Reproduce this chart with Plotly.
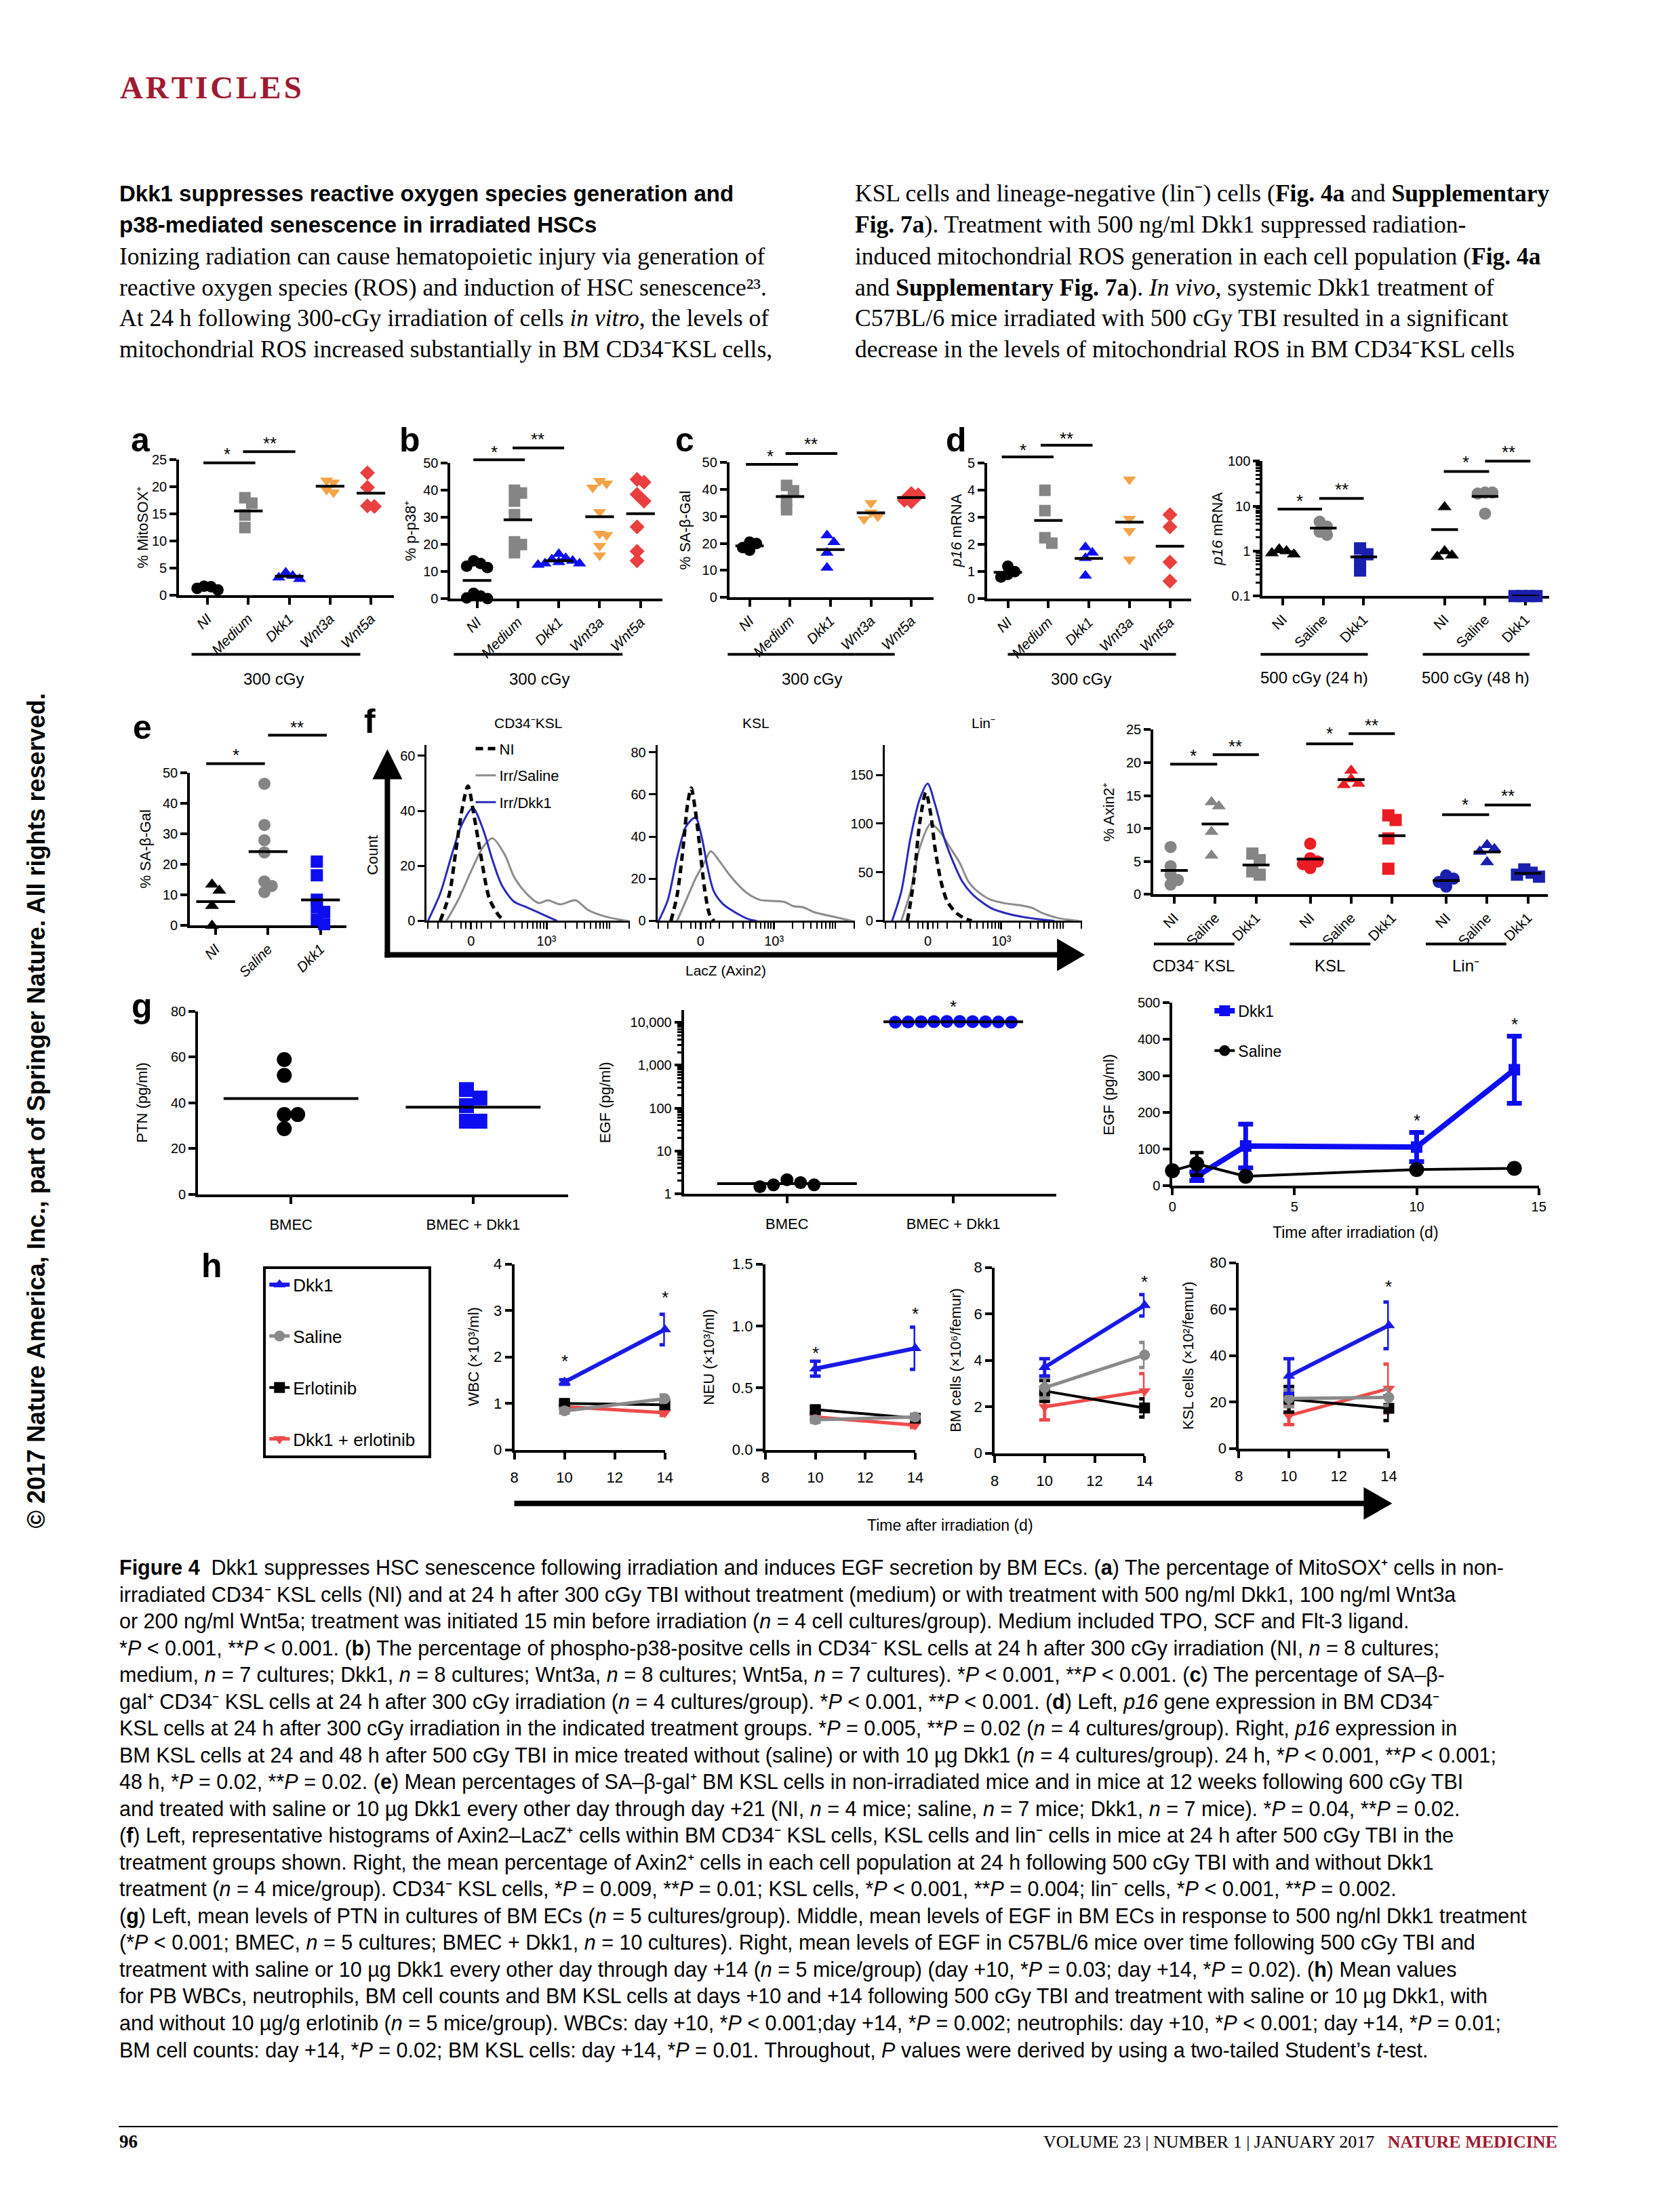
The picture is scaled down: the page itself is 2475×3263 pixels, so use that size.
import numpy as np
import plotly.graph_objects as go

W, H = 2475, 3263
SANS = "Liberation Sans"
SERIF = "Liberation Serif"
BLACK = "#000000"
GREY = "#858585"
BLUE = "#0d0df2"
NAVY = "#1a1fae"
ORANGE = "#f5a348"
RED = "#ea3f3f"
PURERED = "#ec1c24"
HBLUE = "#1a1ae6"
HRED = "#ef4a4a"
DARKRED = "#9e1b32"
TICK = 20
TITLE = 22
SUPP = "\u207a"   # superscript plus
SUPM = "\u207b"   # superscript minus

# ======================= DATA =======================
groups_300 = ["NI", "Medium", "Dkk1", "Wnt3a", "Wnt5a"]
# (a) % MitoSOX+
mitosox_NI = [1.0, 1.3, 1.6, 1.7]
mitosox_Medium = [18.0, 17.0, 14.8, 12.5]
mitosox_Dkk1 = [4.2, 3.6, 3.3, 3.0]
mitosox_Wnt3a = [21.2, 20.8, 19.5, 19.0]
mitosox_Wnt5a = [22.6, 19.9, 16.5, 16.4]
# (b) % p-p38+
pp38_NI = [14.0, 13.0, 12.0, 11.5, 2.0, 1.0, 0.3, 0.1]
pp38_Medium = [40.0, 39.0, 36.0, 31.0, 21.0, 20.0, 17.0]
pp38_Dkk1 = [16.5, 15.0, 14.5, 14.0, 13.5, 13.0, 12.5, 13.0]
pp38_Wnt3a = [43.5, 42.5, 41.0, 32.0, 24.0, 23.5, 19.5, 16.0]
pp38_Wnt5a = [44.0, 43.0, 38.5, 36.0, 26.5, 17.5, 14.0]
# (c) % SA-beta-Gal
sabgal_NI = [20.5, 20.0, 18.5, 17.5]
sabgal_Medium = [41.5, 39.5, 36.0, 32.5]
sabgal_Dkk1 = [23.0, 20.5, 16.5, 11.0]
sabgal_Wnt3a = [35.0, 31.5, 30.0, 29.0]
sabgal_Wnt5a = [38.5, 38.0, 36.0, 35.5]
# (d, left) p16 mRNA
p16_NI = [1.2, 1.0, 0.9, 0.8]
p16_Medium = [4.0, 3.25, 2.25, 2.05]
p16_Dkk1 = [1.9, 1.7, 1.5, 0.85]
p16_Wnt3a = [4.4, 2.95, 2.5, 1.45]
p16_Wnt5a = [3.1, 2.65, 1.35, 0.65]
# (d, right) p16 mRNA in vivo, 500 cGy
groups_vivo = ["NI", "Saline", "Dkk1"]
p16_24h_NI = [1.1, 1.0, 0.9, 0.85]
p16_24h_Saline = [4.5, 3.5, 2.7, 2.3]
p16_24h_Dkk1 = [1.15, 0.85, 0.6, 0.37]
p16_48h_NI = [9.5, 1.0, 0.8, 0.75]
p16_48h_Saline = [20.0, 20.0, 19.0, 6.8]
p16_48h_Dkk1 = [0.1, 0.1, 0.1, 0.1]
group_labels_d = ["500 cGy (24 h)", "500 cGy (48 h)"]
# (e) % SA-beta-Gal in vivo
e_NI = [13.5, 11.5, 6.5, 0.0]
e_Saline = [46.5, 33.0, 28.0, 24.0, 14.5, 13.0, 11.0]
e_Dkk1 = [21.0, 16.5, 8.5, 6.0, 4.5, 2.0, 0.5]
# (f, left) LacZ (Axin2) histograms: display channel (biexponential units) and counts
hist_titles = ["CD34" + SUPM + "KSL", "KSL", "Lin" + SUPM]
cd34_NI_x = [-0.487, -0.341, -0.244, -0.147, -0.050, 0.047, 0.144, 0.289, 0.435, 0.532]
cd34_NI_y = [0, 10, 25, 40, 49, 38, 25, 8, 2, 0]
cd34_Saline_x = [-0.39, -0.196, -0.002, 0.192, 0.338, 0.532, 0.677, 0.871, 1.065, 1.21, 1.404, 1.647, 1.841, 2.132, 2.471]
cd34_Saline_y = [0, 8, 18, 27, 30, 24, 16, 10, 6.5, 7.5, 6, 7.5, 4, 1.5, 0]
cd34_Dkk1_x = [-0.681, -0.487, -0.293, -0.147, 0.027, 0.192, 0.338, 0.483, 0.677, 0.871, 1.162, 1.356]
cd34_Dkk1_y = [0, 10, 25, 35, 41, 33, 22, 13, 7, 5, 2, 0]
ksl_NI_x = [-0.481, -0.382, -0.283, -0.213, -0.153, -0.084, -0.014, 0.065, 0.145, 0.214]
ksl_NI_y = [0, 12, 35, 55, 63, 52, 35, 15, 3, 0]
ksl_Saline_x = [-0.382, -0.233, -0.084, 0.065, 0.165, 0.314, 0.463, 0.612, 0.761, 0.960, 1.158, 1.357, 1.506, 1.655, 1.854, 2.152, 2.450]
ksl_Saline_y = [0, 10, 20, 28, 33, 28, 22, 17, 13, 10, 9.5, 9, 7, 6.5, 4, 2, 0]
ksl_Dkk1_x = [-0.680, -0.531, -0.382, -0.233, -0.084, 0.016, 0.115, 0.214, 0.363, 0.562, 0.761, 0.910]
ksl_Dkk1_y = [0, 10, 30, 45, 49, 40, 25, 14, 8, 4, 1, 0]
lin_NI_x = [-0.332, -0.233, -0.134, -0.034, 0.045, 0.115, 0.214, 0.314, 0.463, 0.612, 0.711]
lin_NI_y = [0, 40, 100, 132, 110, 75, 40, 20, 8, 2, 0]
lin_Saline_x = [-0.432, -0.283, -0.134, 0.045, 0.214, 0.363, 0.512, 0.661, 0.811, 1.009, 1.258, 1.506, 1.705, 1.854, 2.102, 2.450]
lin_Saline_y = [0, 30, 75, 100, 90, 75, 60, 40, 30, 22, 18, 16, 13, 8, 3, 0]
lin_Dkk1_x = [-0.581, -0.432, -0.283, -0.134, -0.004, 0.115, 0.264, 0.413, 0.562, 0.711, 0.860, 1.059, 1.258, 1.457, 1.755, 2.053]
lin_Dkk1_y = [0, 30, 85, 125, 141, 120, 85, 60, 40, 28, 20, 12, 8, 5, 2, 0]
hist_minor_values = [-300, -200, -100, -50, -25, 25, 50, 100, 200, 300, 400, 500, 600, 700, 800, 900,
                     2000, 3000, 4000, 5000, 6000, 7000, 8000, 9000, 10000, 20000]
# (f, right) % Axin2+
axin_groups = ["CD34" + SUPM + " KSL", "KSL", "Lin" + SUPM]
axin_CD34_NI = [7.2, 4.3, 3.0, 2.2, 1.5]
axin_CD34_Saline = [14.0, 13.4, 9.5, 5.9]
axin_CD34_Dkk1 = [6.2, 5.2, 3.5, 3.0]
axin_KSL_NI = [7.7, 5.5, 5.0, 4.6, 4.0]
axin_KSL_Saline = [18.8, 17.5, 16.8, 16.6]
axin_KSL_Dkk1 = [12.0, 11.3, 8.5, 3.9]
axin_Lin_NI = [2.9, 2.4, 1.9, 1.2]
axin_Lin_Saline = [7.5, 6.9, 6.5, 4.9]
axin_Lin_Dkk1 = [3.8, 3.3, 3.0, 2.7]
# (g) PTN / EGF
g_groups = ["BMEC", "BMEC + Dkk1"]
ptn_BMEC = [58.8, 51.9, 34.8, 34.8, 28.6]
ptn_BMEC_Dkk1 = [45.7, 42.0, 38.7, 31.9, 31.9]
egf_BMEC = [2.1, 1.8, 1.6, 1.45, 1.6]
egf_BMEC_Dkk1 = [10500, 10200, 10400, 10600, 10300, 10500, 10400, 10200, 10600, 10300]
egf_days_saline = [0, 1, 3, 10, 14]
egf_saline = [40, 59, 25, 43.5, 46.5]
egf_saline_err = [4, 31, 4, 4, 4]
egf_days_dkk1 = [1, 3, 10, 14]
egf_dkk1 = [25, 108, 105, 317]
egf_dkk1_err = [12, 60, 40, 92]
# (h) blood / marrow counts, days +10 and +14
h_days = [10, 14]
wbc = {"Dkk1": [1.46, 2.59], "Saline": [0.84, 1.10], "Erlotinib": [1.00, 0.97], "Dkk1 + erlotinib": [0.93, 0.80]}
wbc_err = {"Dkk1": [0.05, 0.33], "Saline": [0.05, 0.08], "Erlotinib": [0.05, 0.05], "Dkk1 + erlotinib": [0.04, 0.06]}
neu = {"Dkk1": [0.655, 0.82], "Saline": [0.243, 0.265], "Erlotinib": [0.325, 0.256], "Dkk1 + erlotinib": [0.265, 0.20]}
neu_err = {"Dkk1": [0.06, 0.17], "Saline": [0.02, 0.02], "Erlotinib": [0.02, 0.02], "Dkk1 + erlotinib": [0.02, 0.02]}
bm = {"Dkk1": [3.7, 6.37], "Saline": [2.82, 4.23], "Erlotinib": [2.68, 1.95], "Dkk1 + erlotinib": [2.0, 2.68]}
bm_err = {"Dkk1": [0.37, 0.46], "Saline": [0.44, 0.54], "Erlotinib": [0.45, 0.39], "Dkk1 + erlotinib": [0.56, 0.75]}
ksl = {"Dkk1": [31.2, 53.0], "Saline": [21.5, 22.0], "Erlotinib": [21.2, 17.3], "Dkk1 + erlotinib": [14.2, 25.8]}
ksl_err = {"Dkk1": [7.5, 10.0], "Saline": [3.5, 3.5], "Erlotinib": [5.5, 5.3], "Dkk1 + erlotinib": [3.9, 10.5]}

# ======================= HELPERS =======================
# page placement compensation (the page is shown slightly offset/scaled in the browser)
OX, OY, SC = 16.0, 19.0, 0.992


def fx(x):
    return (x - OX) / SC


def fy(y):
    return (y - OY) / SC


fig = go.Figure()
AX = {}
BASE = dict(showgrid=False, zeroline=False, showline=True, linecolor=BLACK, linewidth=4,
            ticks="outside", ticklen=10, tickwidth=4, tickcolor=BLACK,
            tickfont=dict(family=SANS, size=TICK, color=BLACK), fixedrange=True,
            layer="below traces")


def add_axes(n, x0, x1, ytop, ybot, xr, yr, xlog=False, ylog=False, xkw=None, ykw=None):
    s = "" if n == 1 else str(n)
    xa = dict(BASE)
    xa.update(domain=[fx(x0) / W, fx(x1) / W], range=xr, anchor="y" + s)
    ya = dict(BASE)
    ya.update(domain=[1 - fy(ybot) / H, 1 - fy(ytop) / H], range=yr, anchor="x" + s)
    if xlog:
        xa["type"] = "log"
    if ylog:
        ya["type"] = "log"
    if xkw:
        xa.update(xkw)
    if ykw:
        ya.update(ykw)
    fig.update_layout(**{"xaxis" + s: xa, "yaxis" + s: ya})
    AX[n] = dict(x0=x0, x1=x1, ytop=ytop, ybot=ybot, xr=xr, yr=yr, ylog=ylog,
                 xppu=(x1 - x0) / (xr[1] - xr[0]), yppu=(ybot - ytop) / (yr[1] - yr[0]),
                 xs="x" + s, ys="y" + s)


def PXp(n, v):  # data x -> page pixel
    g = AX[n]
    return g["x0"] + (v - g["xr"][0]) * g["xppu"]


def PYp(n, v):  # data y -> page pixel
    g = AX[n]
    val = np.log10(v) if g["ylog"] else v
    return g["ybot"] - (val - g["yr"][0]) * g["yppu"]


def txt(x, y, s, size=22, family=SANS, color=BLACK, xanchor="center", yanchor="middle", angle=0):
    fig.add_annotation(x=fx(x) / W, y=1 - fy(y) / H, xref="paper", yref="paper", text=s, showarrow=False,
                       font=dict(family=family, size=size, color=color), xanchor=xanchor,
                       yanchor=yanchor, textangle=angle, borderpad=0)


def hline(x0, x1, y, w=4, color=BLACK):
    fig.add_shape(type="line", xref="paper", yref="paper", x0=fx(x0) / W, x1=fx(x1) / W,
                  y0=1 - fy(y) / H, y1=1 - fy(y) / H, line=dict(color=color, width=w))


def vline(x, y0, y1, w=4, color=BLACK):
    fig.add_shape(type="line", xref="paper", yref="paper", x0=fx(x) / W, x1=fx(x) / W,
                  y0=1 - fy(y0) / H, y1=1 - fy(y1) / H, line=dict(color=color, width=w))


def poly(pts, color=BLACK):
    p = "M" + " L".join("%.6f,%.6f" % (fx(x) / W, 1 - fy(y) / H) for x, y in pts) + " Z"
    fig.add_shape(type="path", xref="paper", yref="paper", path=p, fillcolor=color,
                  line=dict(width=0))


def swarm(vals, g, size, spread=0.6, overlap=0.6):
    v = np.asarray(vals, float)
    yv = np.log10(v) if g["ylog"] else v
    yp = yv * g["yppu"]
    order = np.argsort(-yp, kind="stable")
    placed = []
    off = np.zeros(len(v))
    step = size * spread
    for i in order:
        k = 0
        while True:
            cand = 0.0 if k == 0 else ((k + 1) // 2) * step * (1 if k % 2 else -1)
            if all((cand - px) ** 2 + (yp[i] - py) ** 2 >= (size * overlap) ** 2 for px, py in placed):
                break
            k += 1
        placed.append((cand, yp[i]))
        off[i] = cand
    off = off - (off.max() + off.min()) / 2
    return off / g["xppu"]


def dots(n, pos, vals, symbol, color, size, hw=0.35, mean=True, spread=0.6, overlap=0.6):
    g = AX[n]
    off = swarm(vals, g, size, spread, overlap)
    fig.add_trace(go.Scatter(x=pos + off, y=vals, mode="markers", xaxis=g["xs"], yaxis=g["ys"],
                             cliponaxis=False, showlegend=False, hoverinfo="skip",
                             marker=dict(symbol=symbol, color=color, size=size, line=dict(width=0))))
    if mean:
        m = float(np.mean(vals))
        fig.add_trace(go.Scatter(x=[pos - hw, pos + hw], y=[m, m], mode="lines", xaxis=g["xs"],
                                 yaxis=g["ys"], cliponaxis=False, showlegend=False, hoverinfo="skip",
                                 line=dict(color=BLACK, width=4)))


def sig(n, xa, xb, ybar, sx, sy, s):
    hline(PXp(n, xa), PXp(n, xb), PYp(n, ybar))
    txt(PXp(n, sx), PYp(n, sy) + 6, s, size=26)


def cat_x(labels, pos=None, italic=False, angle=-45, size=21):
    pos = list(range(len(labels))) if pos is None else list(pos)
    tt = ["<i>%s</i>" % l if italic else l for l in labels]
    return dict(tickmode="array", tickvals=pos, ticktext=tt, tickangle=angle,
                tickfont=dict(family=SANS, size=size, color=BLACK))


def yt(vals, text=None):
    d = dict(tickmode="array", tickvals=vals)
    if text is not None:
        d["ticktext"] = text
    return d


# ======================= ROW 1: a-d =======================
sym300 = ["circle", "square", "triangle-up", "triangle-down", "diamond"]
col300 = [BLACK, GREY, BLUE, ORANGE, RED]

row1 = [
    (1, "a", [mitosox_NI, mitosox_Medium, mitosox_Dkk1, mitosox_Wnt3a, mitosox_Wnt5a],
     (266, 583, 677, 877), [-0.695, 4.57], [0, 25], [0, 5, 10, 15, 20, 25],
     "% MitoSOX" + SUPP, 212, 209,
     [(-0.1, 1.17, 24.45, 0.48, 26.75, "*"), (0.87, 2.15, 26.5, 1.52, 28.8, "**")],
     (-0.39, 3.74, 1.61)),
    (2, "b", [pp38_NI, pp38_Medium, pp38_Dkk1, pp38_Wnt3a, pp38_Wnt5a],
     (666, 978, 682, 882), [-0.65, 4.53], [0, 50], [0, 10, 20, 30, 40, 50],
     "% p-p38" + SUPP, 607, 606,
     [(-0.09, 1.17, 51.25, 0.42, 55.6, "*"), (0.87, 2.13, 55.6, 1.48, 60.4, "**")],
     (-0.57, 3.56, 1.52)),
    (3, "c", [sabgal_NI, sabgal_Medium, sabgal_Dkk1, sabgal_Wnt3a, sabgal_Wnt5a],
     (1077, 1378, 681, 880), [-0.5, 4.55], [0, 50], [0, 10, 20, 30, 40, 50],
     "% SA-\u03b2-Gal", 1012, 1011,
     [(-0.09, 1.2, 49.3, 0.51, 53.9, "*"), (0.89, 2.17, 53.3, 1.51, 58.3, "**")],
     (-0.54, 3.59, 1.54)),
    (4, "d", [p16_NI, p16_Medium, p16_Dkk1, p16_Wnt3a, p16_Wnt5a],
     (1457, 1758, 682, 882), [-0.51, 4.53], [0, 5], [0, 1, 2, 3, 4, 5],
     "<i>p16</i> mRNA", 1411, 1411,
     [(-0.15, 1.13, 5.23, 0.38, 5.63, "*"), (0.81, 2.09, 5.66, 1.44, 6.06, "**")],
     (0.0, 4.15, 1.8)),
]
for (n, letter, data, box, xr, yr, yticks, ytitle, ytx, lx, sigs, grp) in row1:
    x0, x1, ytop, ybot = box
    add_axes(n, x0, x1, ytop, ybot, xr, yr, xkw=cat_x(groups_300, italic=True), ykw=yt(yticks))
    for i, vals in enumerate(data):
        dots(n, i, vals, sym300[i], col300[i], 17)
    for (xa, xb, yb, sx, sy, s) in sigs:
        sig(n, xa, xb, yb, sx, sy, s)
    txt(ytx, (ytop + ybot) / 2, ytitle, size=TITLE, angle=-90)
    txt(lx, 648, "<b>%s</b>" % letter, size=50)
    hline(PXp(n, grp[0]), PXp(n, grp[1]), 964)
    txt(PXp(n, grp[2]), 1000, "300 cGy", size=24)

# d right (log axis)
minor_d = [k * 10.0 ** e for e in (-1, 0, 1) for k in range(2, 10)]
add_axes(5, 1863, 2285, 679, 878, [-0.5, 6.58], [-1, 2], ylog=True,
         xkw=cat_x(groups_vivo * 2, pos=[0, 1, 2, 4, 5, 6]),
         ykw=dict(tickmode="array", tickvals=[0.1, 1, 10, 100], ticktext=["0.1", "1", "10", "100"],
                  minor=dict(tickmode="array", tickvals=minor_d, ticks="outside", ticklen=6,
                             tickwidth=3, tickcolor=BLACK, showgrid=False)))
vivo_sets = [p16_24h_NI, p16_24h_Saline, p16_24h_Dkk1, p16_48h_NI, p16_48h_Saline, p16_48h_Dkk1]
vivo_pos = [0, 1, 2, 4, 5, 6]
vivo_sym = ["triangle-up", "circle", "square"] * 2
vivo_col = [BLACK, GREY, NAVY] * 2
for vals, p, sy_, c in zip(vivo_sets, vivo_pos, vivo_sym, vivo_col):
    dots(5, p, vals, sy_, c, 18, hw=0.33)
sig(5, -0.13, 0.97, 8.6, 0.42, 16.3, "*")
sig(5, 0.9, 2.0, 14.8, 1.46, 29, "**")
sig(5, 3.98, 5.1, 59, 4.53, 116, "*")
sig(5, 5.0, 6.12, 100, 5.58, 195, "**")
txt(1796, 779, "<i>p16</i> mRNA", size=TITLE, angle=-90)
for (ga, gb, gt), lab in zip([(-0.55, 2.1, 0.77), (3.46, 6.1, 4.77)], group_labels_d):
    hline(PXp(5, ga), PXp(5, gb), 964)
    txt(PXp(5, gt), 998, lab, size=24)

# ======================= ROW 2: e, f =======================
add_axes(6, 282, 513, 1139, 1364, [-0.49, 2.5], [0, 50],
         xkw=cat_x(groups_vivo, italic=True), ykw=yt([0, 10, 20, 30, 40, 50]))
for i, (vals, s_, c) in enumerate(zip([e_NI, e_Saline, e_Dkk1], ["triangle-up", "circle", "square"],
                                      [BLACK, GREY, BLUE])):
    dots(6, i, vals, s_, c, 18, hw=0.37)
sig(6, -0.18, 0.94, 53.1, 0.39, 57.2, "*")
sig(6, 1.0, 2.12, 62.4, 1.55, 66.4, "**")
txt(216, 1251, "% SA-\u03b2-Gal", size=TITLE, angle=-90)
txt(212, 1072, "<b>e</b>", size=50)


def T(v):
    return float(np.arcsinh(v / 130.0) / np.log(10))


hist_minor = [T(v) for v in hist_minor_values]
hist_boxes = [(7, 631, 930, [0, 63.8], [0, 20, 40, 60]),
              (8, 971, 1262, [0, 83.3], [0, 20, 40, 60, 80]),
              (9, 1306, 1597, [0, 180.5], [0, 50, 100, 150])]
hist_data = [
    [(cd34_NI_x, cd34_NI_y), (cd34_Saline_x, cd34_Saline_y), (cd34_Dkk1_x, cd34_Dkk1_y)],
    [(ksl_NI_x, ksl_NI_y), (ksl_Saline_x, ksl_Saline_y), (ksl_Dkk1_x, ksl_Dkk1_y)],
    [(lin_NI_x, lin_NI_y), (lin_Saline_x, lin_Saline_y), (lin_Dkk1_x, lin_Dkk1_y)],
]
hist_names = ["NI", "Irr/Saline", "Irr/Dkk1"]
hist_styles = [dict(color=BLACK, width=5, dash="11px,7px"), dict(color="#8c8c8c", width=3),
               dict(color="#2a2ab8", width=3)]
for k, ((n, x0, x1, yr, yticks), curves, title) in enumerate(zip(hist_boxes, hist_data, hist_titles)):
    add_axes(n, x0, x1, 1098, 1357, [-0.7, 2.5], yr,
             xkw=dict(linewidth=3, tickwidth=3, tickmode="array", tickvals=[0, T(1000)],
                      ticktext=["0", "10\u00b3"],
                      minor=dict(tickmode="array", tickvals=hist_minor, ticks="outside", ticklen=9,
                                 tickwidth=2, tickcolor=BLACK, showgrid=False)),
             ykw=dict(linewidth=3, tickwidth=3, tickmode="array", tickvals=yticks))
    g = AX[n]
    for j in (1, 2, 0):
        cx, cy = curves[j]
        fig.add_trace(go.Scatter(x=cx, y=cy, mode="lines", line=dict(shape="spline", smoothing=0.8,
                                                                    **hist_styles[j]),
                                 xaxis=g["xs"], yaxis=g["ys"], name=hist_names[j],
                                 showlegend=(k == 0), legend="legend", legendgroup=hist_names[j],
                                 legendrank=j + 1, hoverinfo="skip"))
    txt((x0 + x1) / 2, 1065, title, size=21)
# arrows of f
vline(573, 1411, 1140, 8)
poly([(551, 1148), (573, 1104), (595, 1148)])
hline(569, 1565, 1407, 8)
poly([(1560, 1383), (1601, 1407), (1560, 1431)])
txt(551, 1260, "Count", size=TITLE, angle=-90)
txt(1072, 1430, "LacZ (Axin2)", size=21)
txt(547, 1063, "<b>f</b>", size=50)

# f right
axin_sets = [[axin_CD34_NI, axin_CD34_Saline, axin_CD34_Dkk1],
             [axin_KSL_NI, axin_KSL_Saline, axin_KSL_Dkk1],
             [axin_Lin_NI, axin_Lin_Saline, axin_Lin_Dkk1]]
axin_cols = [GREY, PURERED, NAVY]
GAP = 3.325
axin_pos = [gi * GAP + i for gi in range(3) for i in range(3)]
add_axes(10, 1702, 2283, 1075, 1318, [-0.51, 9.13], [0, 25],
         xkw=cat_x(groups_vivo * 3, pos=axin_pos), ykw=yt([0, 5, 10, 15, 20, 25]))
for gi, (sets, c) in enumerate(zip(axin_sets, axin_cols)):
    for i, (vals, s_) in enumerate(zip(sets, ["circle", "triangle-up", "square"])):
        dots(10, gi * GAP + i, vals, s_, c, 18, hw=0.33)
    o = gi * GAP
    sig(10, o - 0.1, o + 1.05, [19.76, 22.85, 12.1][gi], o + 0.47, [21.6, 25.0, 14.2][gi], "*")
    sig(10, o + 0.94, o + 2.07, [21.2, 24.4, 13.57][gi], o + 1.5, [23.1, 26.3, 15.6][gi], "**")
    hline(PXp(10, o - 0.5), PXp(10, o + 1.47), 1391)
    txt(PXp(10, o + 0.48), 1423, axin_groups[gi], size=24)
txt(1636, 1197, "% Axin2" + SUPP, size=TITLE, angle=-90)

# ======================= ROW 3: g =======================
add_axes(11, 294, 839, 1490, 1760, [-0.51, 1.52], [0, 80],
         xkw=cat_x(g_groups, angle=0, size=22) | dict(ticklabelstandoff=12),
         ykw=yt([0, 20, 40, 60, 80]))
dots(11, 0, ptn_BMEC, "circle", BLACK, 22, hw=0.37, spread=0.9, overlap=0.9)
dots(11, 1, ptn_BMEC_Dkk1, "square", BLUE, 22, hw=0.37, spread=0.9, overlap=0.9)
txt(211, 1625, "PTN (pg/ml)", size=TITLE, angle=-90)
txt(211, 1483, "<b>g</b>", size=50)

minor_g = [k * 10.0 ** e for e in range(0, 5) for k in range(2, 10)]
add_axes(12, 1010, 1559, 1488, 1759, [-0.62, 1.62], [0, 4.3], ylog=True,
         xkw=cat_x(g_groups, angle=0, size=22) | dict(ticklabelstandoff=12),
         ykw=dict(tickmode="array", tickvals=[1, 10, 100, 1000, 10000],
                  ticktext=["1", "10", "100", "1,000", "10,000"],
                  minor=dict(tickmode="array", tickvals=minor_g, ticks="outside", ticklen=6,
                             tickwidth=3, tickcolor=BLACK, showgrid=False)))
dots(12, 0, egf_BMEC, "circle", BLACK, 19, hw=0.42, spread=1.05, overlap=1.0)
dots(12, 1, egf_BMEC_Dkk1, "circle", BLUE, 19, hw=0.42, spread=1.0, overlap=1.0)
txt(PXp(12, 1), PYp(12, 28800) + 6, "*", size=26)
txt(894, 1625, "EGF (pg/ml)", size=TITLE, angle=-90)

add_axes(13, 1730, 2270, 1478, 1747, [0, 15], [0, 500],
         xkw=dict(tickmode="array", tickvals=[0, 5, 10, 15]),
         ykw=yt([0, 100, 200, 300, 400, 500]))
fig.add_trace(go.Scatter(x=egf_days_dkk1, y=egf_dkk1, mode="lines+markers", name="Dkk1",
                         xaxis="x13", yaxis="y13", cliponaxis=False, legend="legend2",
                         legendgroup="gdkk1", legendrank=1,
                         line=dict(color=BLUE, width=8), marker=dict(symbol="square", size=17, color=BLUE),
                         error_y=dict(type="data", array=egf_dkk1_err, color=BLUE, thickness=7, width=11)))
fig.add_trace(go.Scatter(x=egf_days_saline, y=egf_saline, mode="lines+markers", name="Saline",
                         xaxis="x13", yaxis="y13", cliponaxis=False, legend="legend2",
                         legendgroup="gsal", legendrank=2,
                         line=dict(color=BLACK, width=4), marker=dict(symbol="circle", size=22, color=BLACK),
                         error_y=dict(type="data", array=egf_saline_err, color=BLACK, thickness=5, width=10)))
txt(PXp(13, 10), PYp(13, 189.5) + 6, "*", size=26)
txt(PXp(13, 14), PYp(13, 453) + 6, "*", size=26)
txt(1636, 1613, "EGF (pg/ml)", size=TITLE, angle=-90)
txt(2000, 1816, "Time after irradiation (d)", size=23)

# ======================= ROW 4: h =======================
h_series = [("Dkk1 + erlotinib", HRED, "triangle-down", 5, 4),
            ("Erlotinib", BLACK, "square", 4, 3),
            ("Saline", "#8a8a8a", "circle", 5, 2),
            ("Dkk1", HBLUE, "triangle-up", 6, 1)]
h_panels = [(14, 760, 982, 1863, 2137, [0, 4], [0, 1, 2, 3, 4], None, wbc, wbc_err,
             "WBC (\u00d710\u00b3/ml)", 700, [(10, 1.99), (14, 3.37)]),
            (15, 1130, 1351, 1863, 2137, [0, 1.5], [0, 0.5, 1.0, 1.5], ["0.0", "0.5", "1.0", "1.5"], neu,
             neu_err, "NEU (\u00d710\u00b3/ml)", 1047, [(10, 0.814), (14, 1.13)]),
            (16, 1468, 1689, 1868, 2142, [0, 8], [0, 2, 4, 6, 8], None, bm, bm_err,
             "BM cells (\u00d710\u2076/femur)", 1411, [(14, 7.54)]),
            (17, 1828, 2049, 1861, 2135, [0, 80], [0, 20, 40, 60, 80], None, ksl, ksl_err,
             "KSL cells (\u00d710\u00b2/femur)", 1753, [(14, 71.5)])]
for k, (n, x0, x1, ytop, ybot, yr, yticks, ytext, dat, err, ytitle, ytx, stars) in enumerate(h_panels):
    add_axes(n, x0, x1, ytop, ybot, [8, 14], yr,
             xkw=dict(tickmode="array", tickvals=[8, 10, 12, 14], ticklabelstandoff=8,
                      tickfont=dict(family=SANS, size=22, color=BLACK)),
             ykw=yt(yticks, ytext) | dict(tickfont=dict(family=SANS, size=22, color=BLACK)))
    g = AX[n]
    for name, c, s_, lw, rank in h_series:
        fig.add_trace(go.Scatter(x=h_days, y=dat[name], mode="lines+markers",
                                 name=name + ("\u00a0\u00a0" if name == "Dkk1 + erlotinib" else ""),
                                 xaxis=g["xs"], yaxis=g["ys"], cliponaxis=False,
                                 showlegend=(k == 0), legend="legend3", legendgroup=name,
                                 legendrank=rank, line=dict(color=c, width=lw),
                                 marker=dict(symbol=s_, size=16, color=c),
                                 error_y=dict(type="data", array=err[name], color=c, thickness=5, width=8)))
    for sx, sy in stars:
        txt(PXp(n, sx), PYp(n, sy) + 6, "*", size=26)
    txt(ytx, (ytop + ybot) / 2, ytitle, size=TITLE, angle=-90)
txt(314, 1865, "<b>h</b>", size=50)
hline(760, 2016, 2216, 8)
poly([(2012, 2192), (2054, 2216), (2012, 2240)])
txt(1402, 2248, "Time after irradiation (d)", size=23)

# ======================= PAGE TEXT =======================
txt(178, 128, "<b>" + "\u200a".join("ARTICLES") + "</b>", size=47, family=SERIF, color=DARKRED,
    xanchor="left")
txt(177, 284, "<b>Dkk1 suppresses reactive oxygen species generation and</b>", size=33, xanchor="left")
txt(177, 330, "<b>p38-mediated senescence in irradiated HSCs</b>", size=33, xanchor="left")
left_body = [
    "Ionizing radiation can cause hematopoietic injury via generation of",
    "reactive oxygen species (ROS) and induction of HSC senescence\u00b2\u00b3.",
    "At 24 h following 300-cGy irradiation of cells <i>in vitro</i>, the levels of",
    "mitochondrial ROS increased substantially in BM CD34" + SUPM + "KSL cells,",
]
right_body = [
    "KSL cells and lineage-negative (lin" + SUPM + ") cells (<b>Fig. 4a</b> and <b>Supplementary</b>",
    "<b>Fig. 7a</b>). Treatment with 500 ng/ml Dkk1 suppressed radiation-",
    "induced mitochondrial ROS generation in each cell population (<b>Fig. 4a</b>",
    "and <b>Supplementary Fig. 7a</b>). <i>In vivo</i>, systemic Dkk1 treatment of",
    "C57BL/6 mice irradiated with 500 cGy TBI resulted in a significant",
    "decrease in the levels of mitochondrial ROS in BM CD34" + SUPM + "KSL cells",
]
for i, line in enumerate(left_body):
    txt(177, [377, 423, 468, 514][i], line, size=35.5, family=SERIF, xanchor="left")
for i, line in enumerate(right_body):
    txt(1261, [284, 330, 377, 423, 468, 514][i], line, size=35.5, family=SERIF, xanchor="left")

caption = [
    "<b>Figure 4</b>  Dkk1 suppresses HSC senescence following irradiation and induces EGF secretion by BM ECs. (<b>a</b>) The percentage of MitoSOX" + SUPP + " cells in non-",
    "irradiated CD34" + SUPM + " KSL cells (NI) and at 24 h after 300 cGy TBI without treatment (medium) or with treatment with 500 ng/ml Dkk1, 100 ng/ml Wnt3a",
    "or 200 ng/ml Wnt5a; treatment was initiated 15 min before irradiation (<i>n</i> = 4 cell cultures/group). Medium included TPO, SCF and Flt-3 ligand.",
    "*<i>P</i> &lt; 0.001, **<i>P</i> &lt; 0.001. (<b>b</b>) The percentage of phospho-p38-positve cells in CD34" + SUPM + " KSL cells at 24 h after 300 cGy irradiation (NI, <i>n</i> = 8 cultures;",
    "medium, <i>n</i> = 7 cultures; Dkk1, <i>n</i> = 8 cultures; Wnt3a, <i>n</i> = 8 cultures; Wnt5a, <i>n</i> = 7 cultures). *<i>P</i> &lt; 0.001, **<i>P</i> &lt; 0.001. (<b>c</b>) The percentage of SA\u2013\u03b2-",
    "gal" + SUPP + " CD34" + SUPM + " KSL cells at 24 h after 300 cGy irradiation (<i>n</i> = 4 cultures/group). *<i>P</i> &lt; 0.001, **<i>P</i> &lt; 0.001. (<b>d</b>) Left, <i>p16</i> gene expression in BM CD34" + SUPM,
    "KSL cells at 24 h after 300 cGy irradiation in the indicated treatment groups. *<i>P</i> = 0.005, **<i>P</i> = 0.02 (<i>n</i> = 4 cultures/group). Right, <i>p16</i> expression in",
    "BM KSL cells at 24 and 48 h after 500 cGy TBI in mice treated without (saline) or with 10 \u00b5g Dkk1 (<i>n</i> = 4 cultures/group). 24 h, *<i>P</i> &lt; 0.001, **<i>P</i> &lt; 0.001;",
    "48 h, *<i>P</i> = 0.02, **<i>P</i> = 0.02. (<b>e</b>) Mean percentages of SA\u2013\u03b2-gal" + SUPP + " BM KSL cells in non-irradiated mice and in mice at 12 weeks following 600 cGy TBI",
    "and treated with saline or 10 \u00b5g Dkk1 every other day through day +21 (NI, <i>n</i> = 4 mice; saline, <i>n</i> = 7 mice; Dkk1, <i>n</i> = 7 mice). *<i>P</i> = 0.04, **<i>P</i> = 0.02.",
    "(<b>f</b>) Left, representative histograms of Axin2\u2013LacZ" + SUPP + " cells within BM CD34" + SUPM + " KSL cells, KSL cells and lin" + SUPM + " cells in mice at 24 h after 500 cGy TBI in the",
    "treatment groups shown. Right, the mean percentage of Axin2" + SUPP + " cells in each cell population at 24 h following 500 cGy TBI with and without Dkk1",
    "treatment (<i>n</i> = 4 mice/group). CD34" + SUPM + " KSL cells, *<i>P</i> = 0.009, **<i>P</i> = 0.01; KSL cells, *<i>P</i> &lt; 0.001, **<i>P</i> = 0.004; lin" + SUPM + " cells, *<i>P</i> &lt; 0.001, **<i>P</i> = 0.002.",
    "(<b>g</b>) Left, mean levels of PTN in cultures of BM ECs (<i>n</i> = 5 cultures/group). Middle, mean levels of EGF in BM ECs in response to 500 ng/nl Dkk1 treatment",
    "(*<i>P</i> &lt; 0.001; BMEC, <i>n</i> = 5 cultures; BMEC + Dkk1, <i>n</i> = 10 cultures). Right, mean levels of EGF in C57BL/6 mice over time following 500 cGy TBI and",
    "treatment with saline or 10 \u00b5g Dkk1 every other day through day +14 (<i>n</i> = 5 mice/group) (day +10, *<i>P</i> = 0.03; day +14, *<i>P</i> = 0.02). (<b>h</b>) Mean values",
    "for PB WBCs, neutrophils, BM cell counts and BM KSL cells at days +10 and +14 following 500 cGy TBI and treatment with saline or 10 \u00b5g Dkk1, with",
    "and without 10 \u00b5g/g erlotinib (<i>n</i> = 5 mice/group). WBCs: day +10, *<i>P</i> &lt; 0.001;day +14, *<i>P</i> = 0.002; neutrophils: day +10, *<i>P</i> &lt; 0.001; day +14, *<i>P</i> = 0.01;",
    "BM cell counts: day +14, *<i>P</i> = 0.02; BM KSL cells: day +14, *<i>P</i> = 0.01. Throughout, <i>P</i> values were derived by using a two-tailed Student\u2019s <i>t</i>-test.",
]
for i, line in enumerate(caption):
    txt(177, 2311 + i * 39.5, line, size=30.5, xanchor="left")

hline(177, 2298, 3135, 2)
txt(177, 3157, "<b>96</b>", size=27, family=SERIF, xanchor="left")
txt(2298, 3157, "VOLUME 23 | NUMBER 1 | JANUARY 2017   <b><span style='color:%s'>NATURE MEDICINE</span></b>" % DARKRED,
    size=26, family=SERIF, xanchor="right")
txt(56, 1637, "<b>\u00a9 2017 Nature America, Inc., part of Springer Nature. All rights reserved.</b>",
    size=36, angle=-90)

# ======================= LAYOUT =======================
fig.update_layout(
    width=W, height=H, margin=dict(l=0, r=0, t=0, b=0),
    paper_bgcolor="white", plot_bgcolor="rgba(0,0,0,0)",
    showlegend=True, hovermode=False,
    legend=dict(x=fx(698) / W, y=1 - fy(1082) / H, xanchor="left", yanchor="top", bgcolor="rgba(0,0,0,0)",
                font=dict(family=SANS, size=22, color=BLACK), traceorder="grouped", tracegroupgap=8),
    legend2=dict(x=fx(1787) / W, y=1 - fy(1468) / H, xanchor="left", yanchor="top", bgcolor="rgba(0,0,0,0)",
                 font=dict(family=SANS, size=23, color=BLACK), traceorder="grouped", tracegroupgap=26),
    legend3=dict(x=fx(390) / W, y=1 - fy(1866) / H, xanchor="left", yanchor="top", bgcolor="white",
                 bordercolor=BLACK, borderwidth=4,
                 font=dict(family=SANS, size=26, color=BLACK), traceorder="grouped", tracegroupgap=39),
)

fig.write_html("out.html")
